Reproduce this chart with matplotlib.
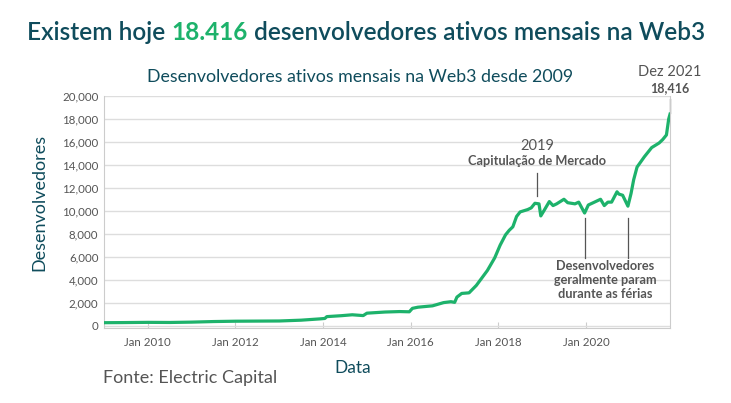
import numpy as np
import pandas as pd
import matplotlib
matplotlib.use("Agg")
import matplotlib.pyplot as plt
import matplotlib.dates as mdates
from matplotlib.ticker import FuncFormatter

plt.rcParams['font.family'] = ['Lato', 'DejaVu Sans']

# monthly active Web3 developers
dates = [
    "2009-01-01", "2009-06-01", "2010-01-01", "2010-07-01", "2011-01-01", "2011-07-01",
    "2012-01-01", "2012-07-01", "2013-01-01", "2013-07-01", "2013-12-01", "2014-01-15",
    "2014-02-01", "2014-06-01", "2014-09-01", "2014-12-01", "2015-01-01", "2015-06-01",
    "2015-10-01", "2015-12-20", "2016-01-15", "2016-03-01", "2016-07-01", "2016-10-01",
    "2016-12-01", "2017-01-01", "2017-01-20", "2017-03-01", "2017-05-01", "2017-07-01",
    "2017-10-01", "2017-12-01", "2018-01-15", "2018-03-01", "2018-04-01", "2018-05-01",
    "2018-06-01", "2018-07-01", "2018-09-01", "2018-10-01", "2018-11-01", "2018-12-05",
    "2018-12-20", "2019-01-15", "2019-03-01", "2019-04-01", "2019-05-01", "2019-07-01",
    "2019-08-01", "2019-10-01", "2019-11-01", "2019-12-20", "2020-01-20", "2020-03-01",
    "2020-05-01", "2020-06-01", "2020-07-01", "2020-08-01", "2020-09-15", "2020-10-01",
    "2020-11-01", "2020-12-15", "2021-01-10", "2021-02-01", "2021-03-01", "2021-05-01",
    "2021-07-01", "2021-09-01", "2021-10-01", "2021-11-01", "2021-11-20", "2021-12-01",
]
developers = [
    250, 260, 280, 270, 300, 350,
    380, 390, 400, 470, 580, 620,
    780, 860, 940, 870, 1080, 1180,
    1220, 1200, 1500, 1600, 1720, 2000,
    2080, 2020, 2480, 2800, 2850, 3500,
    4800, 5900, 7000, 7900, 8300, 8600,
    9500, 9900, 10100, 10250, 10650, 10600,
    9550, 10000, 10800, 10450, 10600, 11000,
    10700, 10600, 10750, 9800, 10500, 10700,
    11000, 10450, 10750, 10750, 11650, 11450,
    11350, 10400, 11500, 12700, 13800, 14700,
    15500, 15900, 16200, 16600, 18000, 18416,
]
tick_years = [2010, 2012, 2014, 2016, 2018, 2020]
y_ticks = list(range(0, 20001, 2000))

dates = pd.to_datetime(dates)

TEAL = "#0f4c5c"
GREEN = "#1db26b"
GREY = "#555555"

fig = plt.figure(figsize=(7.31, 4.03), dpi=100)
ax = fig.add_axes([0.1423, 0.185, 0.7743, 0.577])

ax.plot(dates, developers, color=GREEN, lw=2.3, solid_joinstyle="round", zorder=3)

ax.set_xlim(dates[0], dates[-1])
ax.set_ylim(-250, 20000)
ax.set_yticks(y_ticks)
ax.yaxis.set_major_formatter(FuncFormatter(lambda v, p: f"{v:,.0f}"))
ax.set_xticks([pd.Timestamp(f"{y}-01-01") for y in tick_years])
ax.xaxis.set_major_formatter(mdates.DateFormatter("Jan %Y"))

ax.grid(axis="y", color="#dddddd", lw=1)
ax.set_axisbelow(True)
for s in ["left", "bottom", "right"]:
    ax.spines[s].set_color("#cccccc")
ax.spines["top"].set_visible(False)
ax.tick_params(axis="x", direction="in", length=4, color="#cccccc", labelsize=8.3, labelcolor=GREY, pad=6)
ax.tick_params(axis="y", length=0, labelsize=8.3, labelcolor=GREY, pad=4)

ax.set_xlabel("Data", color=TEAL, fontsize=12.5)
ax.xaxis.set_label_coords(0.44, -0.135)
ax.set_ylabel("Desenvolvedores", color=TEAL, fontsize=13)
ax.yaxis.set_label_coords(-0.1, 0.543)

# annotations
d = pd.Timestamp
ax.plot([d("2018-11-20")] * 2, [11300, 13300], color=GREY, lw=0.9)
ax.text(d("2018-11-20"), 15600, "2019", ha="center", va="center", color=GREY, fontsize=10.5)
ax.text(d("2018-11-20"), 14350, "Capitulação de Mercado", ha="center", va="center",
        color=GREY, fontsize=9.2, fontweight="bold")
for dd in ["2019-12-25", "2020-12-15"]:
    ax.plot([d(dd)] * 2, [5900, 9400], color=GREY, lw=0.9)
ax.text(d("2020-06-10"), 5700, "Desenvolvedores\ngeralmente param\ndurante as férias",
        ha="center", va="top", color=GREY, fontsize=9.2, fontweight="bold", linespacing=1.2)
ax.plot([dates[-1]] * 2, [18500, 19700], color=GREY, lw=0.9, clip_on=False)
ax.text(dates[-1], 22050, "Dez 2021", ha="center", va="center", color=GREY, fontsize=10.5, clip_on=False)
ax.text(dates[-1], 20700, "18,416", ha="center", va="center", color=GREY, fontsize=9,
        fontweight="bold", clip_on=False)

# titles
t1 = fig.text(27 / 731, 1 - 33 / 403, "Existem hoje ", color=TEAL, fontsize=17.6,
              fontweight="semibold", va="center", ha="left")
fig.canvas.draw()
bb = t1.get_window_extent()
t2 = fig.text(bb.x1 / 731, 1 - 33 / 403, "18.416", color=GREEN, fontsize=17.6,
              fontweight="bold", va="center", ha="left")
fig.canvas.draw()
bb = t2.get_window_extent()
fig.text(bb.x1 / 731, 1 - 33 / 403, " desenvolvedores ativos mensais na Web3", color=TEAL,
         fontsize=17.6, fontweight="semibold", va="center", ha="left")

fig.text(360 / 731, 1 - 77 / 403, "Desenvolvedores ativos mensais na Web3 desde 2009",
         color=TEAL, fontsize=12.8, ha="center", va="center")
fig.text(103 / 731, 1 - 378 / 403, "Fonte: Electric Capital", color=GREY, fontsize=13,
         ha="left", va="center")

fig.savefig("out.png", dpi=100)
